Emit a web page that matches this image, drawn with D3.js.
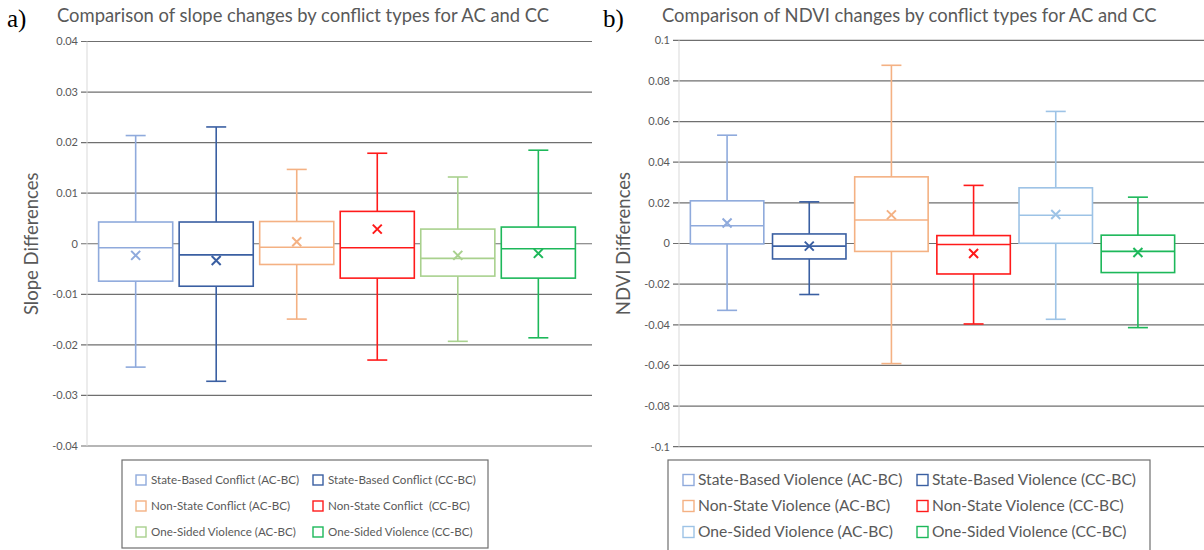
<!DOCTYPE html>
<html>
<head>
<meta charset="utf-8">
<script src="https://cdn.jsdelivr.net/npm/d3@7"></script>
<style>
  html, body { margin: 0; padding: 0; background: #fff; }
  svg { display: block; font-family: Lato, "Open Sans", sans-serif; }
  .pre { white-space: pre; }
</style>
</head>
<body>
<div id="chart"></div>
<script>
// panel a) slope differences
const slopeSeries = ['State-Based Conflict (AC-BC)', 'State-Based Conflict (CC-BC)', 'Non-State Conflict (AC-BC)',
  'Non-State Conflict  (CC-BC)', 'One-Sided Violence (AC-BC)', 'One-Sided Violence (CC-BC)'];
const slopeColors = ['#8FAADC', '#3A5FA2', '#F4B183', '#FF1A1A', '#A9D18E', '#1DB85A'];
const slopeMin = [-0.0244, -0.0272, -0.0149, -0.0230, -0.0193, -0.0186];
const slopeQ1 = [-0.0074, -0.0084, -0.0041, -0.0068, -0.0064, -0.0068];
const slopeMedian = [-0.0008, -0.0022, -0.0007, -0.0008, -0.0029, -0.0010];
const slopeQ3 = [0.0043, 0.0043, 0.0044, 0.0064, 0.0029, 0.0033];
const slopeMax = [0.0214, 0.0231, 0.0147, 0.0179, 0.0132, 0.0185];
const slopeMean = [-0.0023, -0.0033, 0.0004, 0.0029, -0.0023, -0.0019];
const slopeTicks = [-0.04, -0.03, -0.02, -0.01, 0, 0.01, 0.02, 0.03, 0.04];

// panel b) NDVI differences
const ndviSeries = ['State-Based Violence (AC-BC)', 'State-Based Violence (CC-BC)', 'Non-State Violence (AC-BC)',
  'Non-State Violence (CC-BC)', 'One-Sided Violence (AC-BC)', 'One-Sided Violence (CC-BC)'];
const ndviColors = ['#8FAADC', '#3A5FA2', '#F4B183', '#FF1A1A', '#9DC3E6', '#1DB85A'];
const ndviMin = [-0.0329, -0.0251, -0.0591, -0.0396, -0.0373, -0.0414];
const ndviQ1 = [-0.0002, -0.0076, -0.0039, -0.0150, 0.0001, -0.0143];
const ndviMedian = [0.0087, -0.0013, 0.0116, -0.0005, 0.0139, -0.0039];
const ndviQ3 = [0.0210, 0.0047, 0.0328, 0.0039, 0.0274, 0.0041];
const ndviMax = [0.0533, 0.0205, 0.0877, 0.0286, 0.0650, 0.0228];
const ndviMean = [0.0101, -0.0013, 0.0141, -0.0049, 0.0143, -0.0044];
const ndviTicks = [-0.1, -0.08, -0.06, -0.04, -0.02, 0, 0.02, 0.04, 0.06, 0.08, 0.1];

const TEXT = '#595959';
const fmt = (d) => (d === 0 ? '0' : String(+d.toFixed(2)));

const svg = d3.select('#chart').append('svg').attr('width', 1204).attr('height', 550);

function drawPanel(p) {
  const g = svg.append('g');
  const y = d3.scaleLinear().domain(p.domain).range([p.bottom, p.top]);
  const x = d3.scaleBand().domain(p.series).range(p.band).paddingInner(p.pad).paddingOuter(p.pad / 2);

  g.append('text').attr('x', p.letterX).attr('y', 27)
    .attr('font-family', '"Liberation Serif", "Times New Roman", serif').attr('font-size', 25).attr('fill', '#000')
    .text(p.letter);
  g.append('text').attr('x', p.titleX).attr('y', 22).attr('font-size', p.titleSize).attr('fill', TEXT).text(p.title);

  // gridlines + tick labels
  g.selectAll('line.grid').data(p.ticks).join('line').attr('class', 'grid')
    .attr('x1', p.left - 6).attr('x2', p.right)
    .attr('y1', (d) => y(d)).attr('y2', (d) => y(d))
    .attr('stroke', '#6f6f6f').attr('stroke-width', 1.2);
  g.selectAll('text.tick').data(p.ticks).join('text').attr('class', 'tick')
    .attr('x', p.left - 9).attr('y', (d) => y(d)).attr('dy', '0.35em')
    .attr('text-anchor', 'end').attr('font-size', 11).attr('fill', TEXT).text(fmt);
  g.append('line').attr('x1', p.left).attr('x2', p.left).attr('y1', p.top).attr('y2', p.bottom)
    .attr('stroke', '#d9d9d9').attr('stroke-width', 1);

  g.append('text').attr('transform', `translate(${p.axisX},${(p.top + p.bottom) / 2}) rotate(-90)`)
    .attr('text-anchor', 'middle').attr('font-size', 18.5).attr('fill', TEXT).text(p.axisTitle);

  const rows = p.series.map((s, i) => ({
    s, color: p.colors[i], min: p.min[i], q1: p.q1[i], med: p.median[i], q3: p.q3[i], max: p.max[i], mean: p.mean[i],
  }));
  const bw = x.bandwidth();
  const box = g.selectAll('g.box').data(rows).join('g').attr('class', 'box')
    .attr('stroke', (d) => d.color).attr('fill', 'none').attr('stroke-width', 1.6);
  const cx = (d) => x(d.s) + bw / 2;
  box.append('line').attr('x1', cx).attr('x2', cx).attr('y1', (d) => y(d.max)).attr('y2', (d) => y(d.q3));
  box.append('line').attr('x1', cx).attr('x2', cx).attr('y1', (d) => y(d.q1)).attr('y2', (d) => y(d.min));
  box.append('line').attr('x1', (d) => cx(d) - 10).attr('x2', (d) => cx(d) + 10).attr('y1', (d) => y(d.max)).attr('y2', (d) => y(d.max));
  box.append('line').attr('x1', (d) => cx(d) - 10).attr('x2', (d) => cx(d) + 10).attr('y1', (d) => y(d.min)).attr('y2', (d) => y(d.min));
  box.append('rect').attr('x', (d) => x(d.s)).attr('width', bw)
    .attr('y', (d) => y(d.q3)).attr('height', (d) => y(d.q1) - y(d.q3)).attr('fill', '#fff');
  box.append('line').attr('x1', (d) => x(d.s)).attr('x2', (d) => x(d.s) + bw).attr('y1', (d) => y(d.med)).attr('y2', (d) => y(d.med));
  box.append('path').attr('stroke-width', 2)
    .attr('d', (d) => {
      const mx = cx(d); const my = y(d.mean); const r = 4.5;
      return `M${mx - r},${my - r}L${mx + r},${my + r}M${mx - r},${my + r}L${mx + r},${my - r}`;
    });

  // legend
  const lg = g.append('g');
  lg.append('rect').attr('x', p.legend.x).attr('y', 460).attr('width', p.legend.w).attr('height', p.legend.h)
    .attr('fill', '#fff').attr('stroke', '#6f6f6f').attr('stroke-width', 1.2);
  const items = lg.selectAll('g').data(rows).join('g')
    .attr('transform', (d, i) => `translate(${p.legend.cols[i % 2]},${480 + Math.floor(i / 2) * 26})`);
  items.append('rect').attr('x', 0).attr('y', -p.legend.sw / 2).attr('width', p.legend.sw).attr('height', p.legend.sw)
    .attr('fill', 'none').attr('stroke', (d) => d.color).attr('stroke-width', 1.4);
  items.append('text').attr('class', 'pre').attr('x', p.legend.sw + p.legend.gap).attr('dy', '0.35em')
    .attr('font-size', p.legend.fs).attr('fill', TEXT).text((d) => d.s);
}

drawPanel({
  letter: 'a)', letterX: 7, title: 'Comparison of slope changes by conflict types for AC and CC', titleX: 57, titleSize: 18.4,
  axisTitle: 'Slope Differences', axisX: 38,
  series: slopeSeries, colors: slopeColors, min: slopeMin, q1: slopeQ1, median: slopeMedian, q3: slopeQ3,
  max: slopeMax, mean: slopeMean, ticks: slopeTicks, domain: [-0.04, 0.04],
  top: 41.5, bottom: 446, left: 87, right: 592, band: [95.4, 578.6], pad: 0.08,
  legend: { x: 122, w: 366, h: 88, cols: [136, 313], sw: 10, gap: 5, fs: 11.6 },
});

drawPanel({
  letter: 'b)', letterX: 603, title: 'Comparison of NDVI changes by conflict types for AC and CC', titleX: 662, titleSize: 18.4,
  axisTitle: 'NDVI Differences', axisX: 630,
  series: ndviSeries, colors: ndviColors, min: ndviMin, q1: ndviQ1, median: ndviMedian, q3: ndviQ3,
  max: ndviMax, mean: ndviMean, ticks: ndviTicks, domain: [-0.1, 0.1],
  top: 40.3, bottom: 446.7, left: 679, right: 1204, band: [686, 1179], pad: 0.106,
  legend: { x: 668, w: 482, h: 95, cols: [683, 917], sw: 11, gap: 4, fs: 15.6 },
});
</script>
</body>
</html>
